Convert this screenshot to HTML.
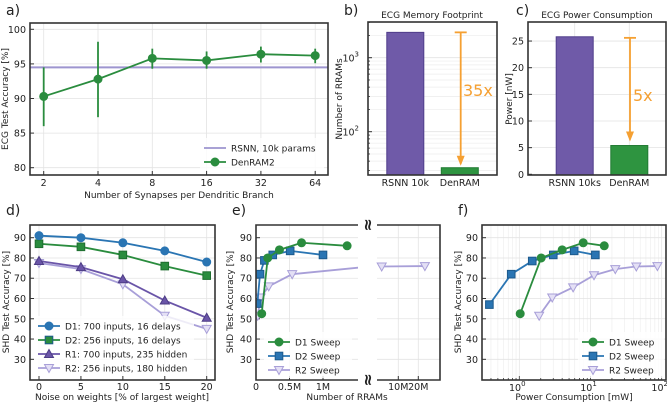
<!DOCTYPE html>
<html><head><meta charset="utf-8"><style>
html,body{margin:0;padding:0;background:#fff;}
svg{display:block;font-family:"DejaVu Sans","Liberation Sans",sans-serif;}
</style></head><body>
<svg id="fig" width="667" height="402" viewBox="0 0 667 402" xmlns="http://www.w3.org/2000/svg"></svg>
<script>
// ---- Panel a data ----
const aCats = [2,4,8,16,32,64];
const aMean = [90.3,92.8,95.8,95.5,96.4,96.2];
const aLo = [86.0,87.3,94.3,94.3,95.2,95.1];
const aHi = [94.5,98.2,97.2,96.8,97.5,97.2];
const aRsnn = 94.5;
const aYTicks = [80,85,90,95,100];
// ---- Panel b ----
const bCats = ["RSNN 10k","DenRAM"];
const bVals = [2200,32.6];
const bYTicks = [100,1000];
// ---- Panel c ----
const cCats = ["RSNN 10ks","DenRAM"];
const cVals = [25.8,5.4];
const cYTicks = [0,5,10,15,20,25];
// ---- Panel d ----
const dX = [0,5,10,15,20];
const dD1 = [91,90,87.5,83.5,78];
const dD2 = [87,85.5,81.5,76,71.3];
const dR1 = [78.5,75.5,69.5,59,50.5];
const dR2 = [77.5,74.5,67,51.5,45];
const shdYTicks = [30,40,50,60,70,80,90];
// ---- Panel e (x in millions) ----
const eD1x = [0.085,0.175,0.35,0.68,1.36];
const eD1y = [52.5,80,84,87.5,86];
const eD2x = [0.02,0.06,0.125,0.25,0.51,1.0];
const eD2y = [57.5,72,78.8,81.5,83.5,81.5];
const eR2x = [0.025,0.07,0.19,0.54,1.7,23.3];
const eR2y = [51.5,60.5,66,72,75.8,76];
// ---- Panel f (x in mW) ----
const fD1x = [1.03,2.03,4.0,7.9,15.6];
const fD1y = [52.5,80,84,87.5,86];
const fD2x = [0.38,0.77,1.52,3.0,5.9,11.7];
const fD2y = [57,72,78.5,81.5,83.5,81.5];
const fR2x = [1.9,2.9,5.7,11.2,22.3,44,87];
const fR2y = [51.5,60.5,65.5,71.5,74.5,75.8,76];

const NS="http://www.w3.org/2000/svg";
const svg=document.getElementById('fig');
const GREEN="#2a8c3e",BLUE="#2a75b3",PURPLE="#6a55a8",LPURP="#a89fd8",ORANGE="#f5a032",AX="#333",GRID="#e3e3e3";
const TK=9.5, LB=9;
function el(tag,attrs,parent){const e=document.createElementNS(NS,tag);for(const k in attrs)e.setAttribute(k,attrs[k]);(parent||svg).appendChild(e);return e;}
function ln(x1,y1,x2,y2,s,w,p){return el('line',{x1,y1,x2,y2,stroke:s,'stroke-width':w},p);}
function tx(x,y,t,size,anchor,p,extra){const e=el('text',Object.assign({x,y,'font-size':size,'text-anchor':anchor||'middle',fill:'#222'},extra||{}),p);e.textContent=t;return e;}
function marker(type,x,y,c,p){
  if(type==='o')return el('circle',{cx:x,cy:y,r:4,fill:c,stroke:c,'stroke-width':1},p);
  if(type==='s')return el('rect',{x:x-3.8,y:y-3.8,width:7.6,height:7.6,fill:c,stroke:'#1d5a8c','stroke-width':1},p);
  if(type==='^')return el('polygon',{points:`${x},${y-4.5} ${x-4.5},${y+3.5} ${x+4.5},${y+3.5}`,fill:c,stroke:'#4d3d85','stroke-width':1},p);
  if(type==='v')return el('polygon',{points:`${x-4.5},${y-3.5} ${x+4.5},${y-3.5} ${x},${y+4.5}`,fill:'#e4e0f5',stroke:c,'stroke-width':1},p);
}
function series(xs,ys,X,Y,c,m,name,p){
  const g=el('g',{},p);
  
  
  el('polyline',{points:xs.map((v,i)=>X(v)+','+Y(ys[i])).join(' '),fill:'none',stroke:c,'stroke-width':1.8},g);
  xs.forEach((v,i)=>{const mk=marker(m,X(v),Y(ys[i]),c,g);});
  return g;
}
function frame(x0,y0,x1,y1,p){el('rect',{x:x0,y:y0,width:x1-x0,height:y1-y0,fill:'none',stroke:AX,'stroke-width':1.6},p);}
function label(x,y,t){const e=tx(x,y,t,14,'start');}
function ylabel(x,y,t,p,name){const e=tx(x,y,t,LB,'middle',p,{transform:`rotate(-90 ${x} ${y})`});}
function legend(x,y,items,p,w){
  const g=el('g',{},p);
  
  
  el('rect',{x:x,y:y,width:w,height:items.length*14+4,fill:'rgba(255,255,255,0.8)',stroke:'none'},g);
  items.forEach((it,i)=>{const yy=y+10+i*14;
    const le=el('g',{},g);
    
    
    ln(x+4,yy,x+26,yy,it.c,1.8,le); if(it.m)marker(it.m,x+15,yy,it.c,le);
    tx(x+31,yy+3.5,it.t,LB,'start',le);});
}
function yTicksAxis(vals,Y,x0,x1,p,grid){vals.forEach(v=>{const y=Y(v);if(grid)ln(x0,y,x1,y,GRID,0.8,p);ln(x0,y,x0+4,y,AX,1,p);tx(x0-4,y+3.5,String(v),TK,'end',p);});}

// ================= Panel a =================
(function(){
 const g=el('g',{});
 const x0=30,x1=328,y0=23,y1=175;
 const X=v=>43.7+Math.log2(v/2)*54.3, Y=v=>167.7-(v-80)*6.92;
 aCats.forEach(c=>{ln(X(c),y0,X(c),y1,GRID,0.8,g);ln(X(c),y1,X(c),y1-4,AX,1,g);tx(X(c),186,String(c),TK,'middle',g);});
 yTicksAxis(aYTicks,Y,x0,x1,g,true);
 ln(x0,Y(aRsnn),x1,Y(aRsnn),"#9d95cf",2,g);
 aCats.forEach((c,i)=>{const e=ln(X(c),Y(aLo[i]),X(c),Y(aHi[i]),GREEN,1.8,g);});
 series(aCats,aMean,X,Y,GREEN,'o','denram2-series',g);
 frame(x0,y0,x1,y1,g);
 legend(200,138,[{t:'RSNN, 10k params',c:'#9d95cf'},{t:'DenRAM2',c:GREEN,m:'o'}],g,124);
 const xl=tx(179,198,'Number of Synapses per Dendritic Branch',LB,'middle',g);
 ylabel(8,99,'ECG Test Accuracy [%]',g,'y-axis-title');
})();
label(6,15,'a)');

// ================= Panel b =================
(function(){
 const g=el('g',{});
 const x0=368,x1=497,y0=22,y1=175;
 const Y=v=>57.7-(Math.log10(v)-3)*74;
 for(let d=10;d<=1000;d*=10)for(let k=2;k<=9;k++){const v=d*k;const y=Y(v);if(y>y0&&y<y1){ln(x0,y,x1,y,'#ececec',0.7,g);ln(x0,y,x0+2,y,AX,0.8,g);}}
 bYTicks.forEach((v,i)=>{const y=Y(v);ln(x0,y,x1,y,GRID,0.9,g);ln(x0,y,x0+4,y,AX,1,g);const t=tx(x0-9,y+4,'10',TK,'end',g);const s=el('tspan',{dy:-5,'font-size':7},t);s.textContent=String(i+2);});
 const bx=[405.3,459.8];
 bCats.forEach((c,i)=>{const r=el('rect',{x:bx[i]-18.5,y:Y(bVals[i]),width:37,height:y1-Y(bVals[i]),fill:i?"#2e9440":"#6f5aa8",stroke:i?"#207a32":"#4f3d8a",'stroke-width':1},g);tx(bx[i],186,c,TK,'middle',g);});
 const ax=460.7;
 ln(ax,Y(bVals[0]),ax,Y(bVals[1])-4,ORANGE,1.8,g);ln(ax-6,Y(bVals[0]),ax+6,Y(bVals[0]),ORANGE,1.8,g);
 el('polygon',{points:`${ax-4},${Y(bVals[1])-12} ${ax+4},${Y(bVals[1])-12} ${ax},${Y(bVals[1])-2}`,fill:ORANGE},g);
 const t=tx(463,96,'35x',16,'start',g,{fill:ORANGE});
 frame(x0,y0,x1,y1,g);
 tx(432,18,'ECG Memory Footprint',LB,'middle',g);
 ylabel(342,99,'Number of RRAMs',g,'y-axis-title');
})();
label(344,15,'b)');

// ================= Panel c =================
(function(){
 const g=el('g',{});
 const x0=528,x1=666,y0=22,y1=175;
 const Y=v=>174.3-v*5.33;
 yTicksAxis(cYTicks,Y,x0,x1,g,true);
 ln(574.7,y0,574.7,y1,GRID,0.8,g);ln(629.3,y0,629.3,y1,GRID,0.8,g);
 const bx=[574.7,629.3];
 cCats.forEach((c,i)=>{const r=el('rect',{x:bx[i]-18.5,y:Y(cVals[i]),width:37,height:y1-Y(cVals[i]),fill:i?"#2e9440":"#6f5aa8",stroke:i?"#207a32":"#4f3d8a",'stroke-width':1},g);tx(bx[i],186,c,TK,'middle',g);});
 const ax=630;
 ln(ax,Y(25.6),ax,Y(cVals[1])-6,ORANGE,1.8,g);ln(ax-6,Y(25.6),ax+6,Y(25.6),ORANGE,1.8,g);
 el('polygon',{points:`${ax-4},${Y(cVals[1])-14} ${ax+4},${Y(cVals[1])-14} ${ax},${Y(cVals[1])-4}`,fill:ORANGE},g);
 const t=tx(633,101,'5x',16,'start',g,{fill:ORANGE});
 frame(x0,y0,x1,y1,g);
 tx(597,18,'ECG Power Consumption',LB,'middle',g);
 ylabel(512,99,'Power [nW]',g,'y-axis-title');
})();
label(516,15,'c)');

const SY=v=>237.7-(v-90)*2.027;
// ================= Panel d =================
(function(){
 const g=el('g',{});
 const x0=30,x1=215,y0=225,y1=380;
 const X=v=>39+v*8.385;
 dX.forEach(v=>{ln(X(v),y0,X(v),y1,GRID,0.8,g);ln(X(v),y1,X(v),y1-4,AX,1,g);tx(X(v),390,String(v),TK,'middle',g);});
 yTicksAxis(shdYTicks,SY,x0,x1,g,true);
 series(dX,dR2,X,SY,LPURP,'v','r2-series',g);
 series(dX,dR1,X,SY,PURPLE,'^','r1-series',g);
 series(dX,dD2,X,SY,GREEN,'s','d2-series',g);
 g.lastChild.querySelectorAll('rect').forEach(r=>{r.setAttribute('fill',GREEN);r.setAttribute('stroke','#1f6e30');});
 series(dX,dD1,X,SY,BLUE,'o','d1-series',g);
 frame(x0,y0,x1,y1,g);
 legend(34,316,[{t:'D1: 700 inputs, 16 delays',c:BLUE,m:'o'},{t:'D2: 256 inputs, 16 delays',c:GREEN,m:'s'},{t:'R1: 700 inputs, 235 hidden',c:PURPLE,m:'^'},{t:'R2: 256 inputs, 180 hidden',c:LPURP,m:'v'}],g,160);
 g.lastChild.querySelectorAll('rect')[1].setAttribute('fill',GREEN);
 tx(122,400,'Noise on weights [% of largest weight]',LB,'middle',g);
 ylabel(9,302,'SHD Test Accuracy [%]',g,'y-axis-title');
})();
label(6,215,'d)');

// ================= Panel e =================
(function(){
 const g=el('g',{});
 const x0=256,xb=358,xc=377,x1=440,y0=225,y1=380;
 const X1=v=>256+v*67, X2=v=>378.3+v*2;
 const eTicks=[0,0.5,1], eTickL=['0','0.5M','1M'], eTicks2=[10,20], eTickL2=['10M','20M'];
 eTicks.forEach((v,i)=>{ln(X1(v),y0,X1(v),y1,GRID,0.8,g);ln(X1(v),y1,X1(v),y1-4,AX,1,g);tx(X1(v),390,eTickL[i],TK,'middle',g);});
 eTicks2.forEach((v,i)=>{ln(X2(v),y0,X2(v),y1,GRID,0.8,g);ln(X2(v),y1,X2(v),y1-4,AX,1,g);tx(X2(v),390,eTickL2[i],TK,'middle',g);});
 shdYTicks.forEach(v=>{const y=SY(v);ln(x0,y,xb,y,GRID,0.8,g);ln(xc,y,x1,y,GRID,0.8,g);ln(x0,y,x0+4,y,AX,1,g);tx(x0-4,y+3.5,String(v),TK,'end',g);});
 const cl=el('clipPath',{id:'cle'},g);el('rect',{x:x0,y:y0,width:xb-x0,height:y1-y0},cl);
 const gl=el('g',{'clip-path':'url(#cle)'},g);
 series(eR2x,eR2y,X1,SY,LPURP,'v','r2-sweep-series',gl);
 series(eD2x,eD2y,X1,SY,BLUE,'s','d2-sweep-series',gl);
 series(eD1x,eD1y,X1,SY,GREEN,'o','d1-sweep-series',gl);
 const n=eR2x.length;
 series(eR2x.slice(n-2),eR2y.slice(n-2),X2,SY,LPURP,'v','r2-sweep-series-right',g);
 el('path',{d:`M${xb},${y0} H${x0} V${y1} H${xb} M${xc},${y0} H${x1} V${y1} H${xc}`,fill:'none',stroke:AX,'stroke-width':1.6},g);
 [y0,y1].forEach(y=>{const b=tx(368,y+5,'≈',16,'middle',g,{transform:`rotate(90 368 ${y})`,'font-weight':'bold'});});
 legend(264,332,[{t:'D1 Sweep',c:GREEN,m:'o'},{t:'D2 Sweep',c:BLUE,m:'s'},{t:'R2 Sweep',c:LPURP,m:'v'}],g,88);
 tx(347,400,'Number of RRAMs',LB,'middle',g);
 ylabel(233,302,'SHD Test Accuracy [%]',g,'y-axis-title');
})();
label(232,215,'e)');

// ================= Panel f =================
(function(){
 const g=el('g',{});
 const x0=482,x1=666,y0=225,y1=380;
 const X=v=>519.3+Math.log10(v)*71.2;
 for(let d=0.1;d<=100;d*=10)for(let k=1;k<=9;k++){const v=d*k;const x=X(v);if(x>x0&&x<x1){ln(x,y0,x,y1,k===1?GRID:'#efefef',0.7,g);ln(x,y1,x,y1-(k===1?4:2),AX,0.8,g);}}
 [0,1,2].forEach(p=>{const t=tx(X(Math.pow(10,p))-2,391,'10',TK,'middle',g);const s=el('tspan',{dy:-5,'font-size':7},t);s.textContent=String(p);});
 yTicksAxis(shdYTicks,SY,x0,x1,g,true);
 series(fR2x,fR2y,X,SY,LPURP,'v','r2-sweep-series',g);
 series(fD2x,fD2y,X,SY,BLUE,'s','d2-sweep-series',g);
 series(fD1x,fD1y,X,SY,GREEN,'o','d1-sweep-series',g);
 frame(x0,y0,x1,y1,g);
 legend(578,332,[{t:'D1 Sweep',c:GREEN,m:'o'},{t:'D2 Sweep',c:BLUE,m:'s'},{t:'R2 Sweep',c:LPURP,m:'v'}],g,86);
 tx(574,400,'Power Consumption [mW]',LB,'middle',g);
 ylabel(461,302,'SHD Test Accuracy [%]',g,'y-axis-title');
})();
label(458,215,'f)');
</script>
</body></html>
